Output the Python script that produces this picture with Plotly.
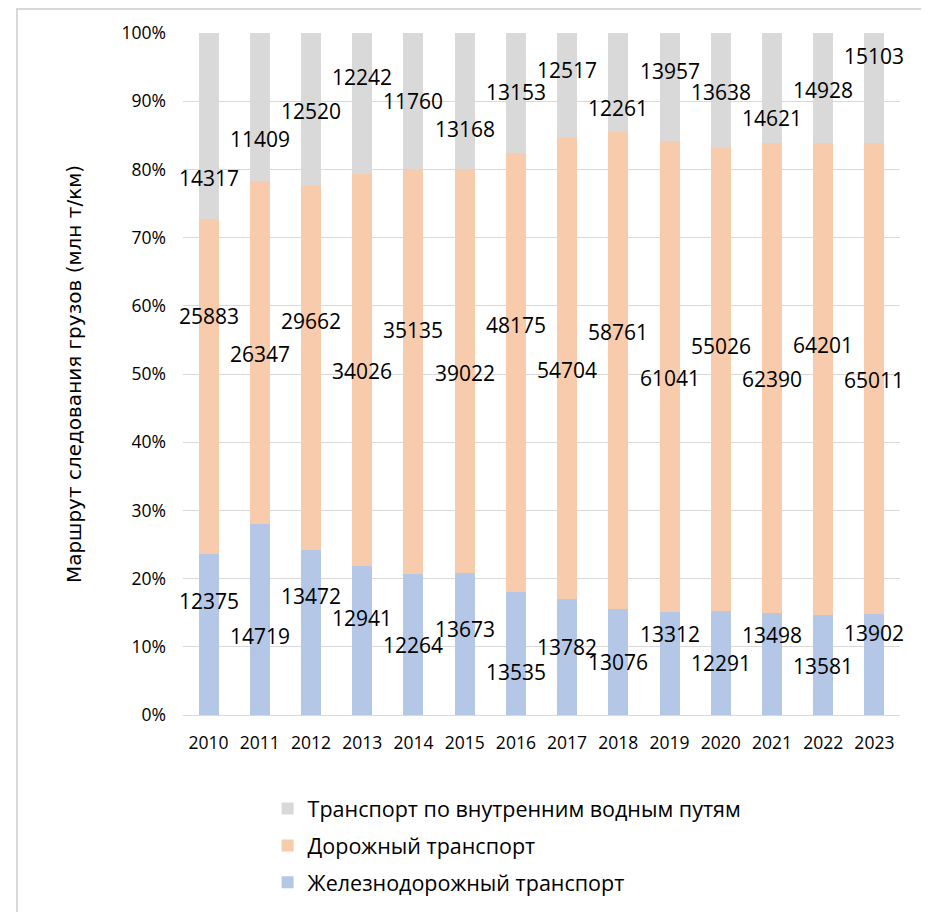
import plotly.graph_objects as go

years = ["2010", "2011", "2012", "2013", "2014", "2015", "2016",
         "2017", "2018", "2019", "2020", "2021", "2022", "2023"]

rail = [12375, 14719, 13472, 12941, 12264, 13673, 13535,
        13782, 13076, 13312, 12291, 13498, 13581, 13902]
road = [25883, 26347, 29662, 34026, 35135, 39022, 48175,
        54704, 58761, 61041, 55026, 62390, 64201, 65011]
water = [14317, 11409, 12520, 12242, 11760, 13168, 13153,
         12517, 12261, 13957, 13638, 14621, 14928, 15103]

series_names = ["Железнодорожный транспорт", "Дорожный транспорт",
                "Транспорт по внутренним водным путям"]

# label placement (percent of axis) as arranged in the original chart
label_y_rail = [16.7, 11.6, 17.4, 14.2, 10.3, 12.6, 6.3, 10.0, 7.8, 11.9, 7.6, 11.7, 7.2, 12.0]
label_y_road = [58.5, 52.9, 57.8, 50.4, 56.5, 50.1, 57.2, 50.6, 56.2, 49.4, 54.1, 49.3, 54.3, 49.1]
label_y_water = [78.7, 84.5, 88.6, 93.5, 90.0, 85.9, 91.3, 94.6, 89.0, 94.4, 91.3, 87.5, 91.6, 96.6]

colors = ["#B4C7E7", "#F8CBAD", "#D9D9D9"]
ranks = [3, 2, 1]

fig = go.Figure()
for i, (name, vals) in enumerate(zip(series_names, [rail, road, water])):
    fig.add_trace(go.Bar(
        x=years, y=vals, name=name, marker=dict(color=colors[i], line=dict(width=0)),
        legendgroup=f"g{i}", legendrank=ranks[i], hoverinfo="skip",
    ))

annotations = []
for vals, ly in [(rail, label_y_rail), (road, label_y_road), (water, label_y_water)]:
    for idx, (v, yy) in enumerate(zip(vals, ly)):
        annotations.append(dict(
            x=idx, y=yy, xref="x", yref="y", text=str(v), showarrow=False,
            font=dict(family="Open Sans", size=21, color="#000000"),
            xanchor="center", yanchor="middle",
        ))

fig.update_layout(
    width=929, height=912,
    margin=dict(l=175, r=37, t=25, b=205, autoexpand=False),
    paper_bgcolor="white", plot_bgcolor="white",
    barmode="stack", barnorm="percent", bargap=0.61,
    font=dict(family="Open Sans", color="#000000"),
    annotations=annotations,
    legend=dict(
        orientation="v", traceorder="grouped", tracegroupgap=6,
        x=0.118, xanchor="left", y=-0.107, yanchor="top",
        font=dict(family="Open Sans", size=21.5, color="#000000"),
        bgcolor="rgba(0,0,0,0)",
    ),
    shapes=[dict(type="rect", xref="paper", yref="paper",
                 x0=-0.2315, x1=1.2, y0=-0.4, y1=1.0352,
                 line=dict(color="#D9D9D9", width=2), layer="below")],
    xaxis=dict(type="category", range=[-0.5, 13.5],
               tickfont=dict(family="Open Sans", size=17.5),
               showgrid=False, showline=False, ticks="", ticklabelstandoff=15),
    yaxis=dict(range=[0, 100], dtick=10, ticksuffix="%", showgrid=True,
               gridcolor="#D9D9D9", gridwidth=1.3, zeroline=True,
               zerolinecolor="#D9D9D9", zerolinewidth=1.3,
               tickfont=dict(family="Open Sans", size=17.5),
               ticklabelstandoff=16,
               title=dict(text="Маршрут следования грузов (млн т/км)",
                          font=dict(family="DejaVu Sans", size=20),
                          standoff=34)),
)

fig.write_html("out.html")
